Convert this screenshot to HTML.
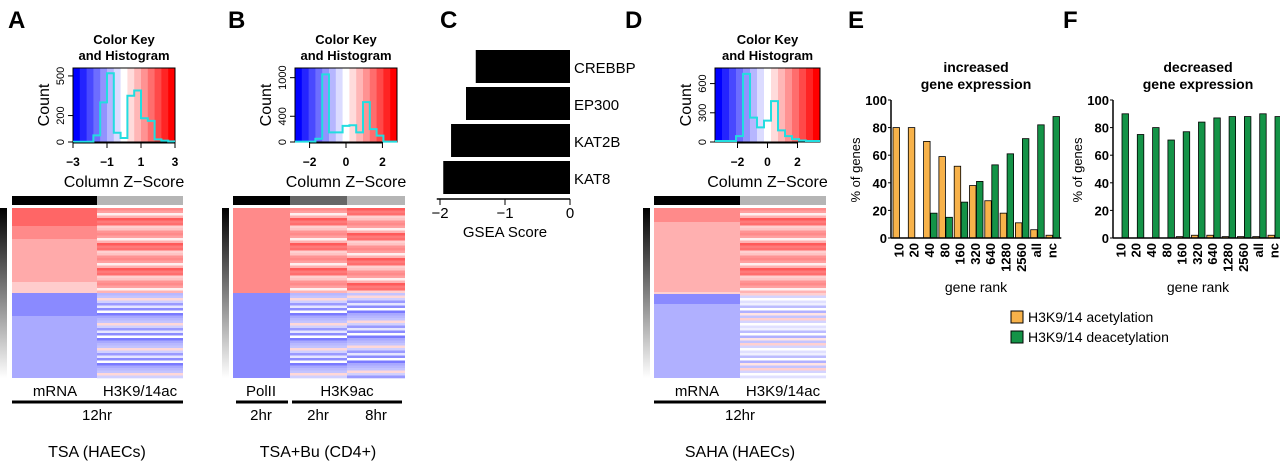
<!DOCTYPE html>
<html><head><meta charset="utf-8"><style>
html,body{margin:0;padding:0;background:#fff}
svg{display:block;font-family:"Liberation Sans",Arial,sans-serif}
</style></head><body>
<svg id="fig" width="1280" height="463" viewBox="0 0 1280 463">
<defs>
<linearGradient id="gz" x1="0" x2="0" y1="0" y2="1">
<stop offset="0" stop-color="#000"/><stop offset="1" stop-color="#fff"/>
</linearGradient>
</defs>
<g id="root"></g>
</svg>
<script>
// ---- data ----
const ranks = ["10","20","40","80","160","320","640","1280","2560","all","nc"];
const incAcet = [80,80,70,59,52,38,27,18,11,6,2];
const incDeacet = [0,0,18,15,26,41,53,61,72,82,88];
const decAcet = [0,0,0,0,1,2,2,1,1,1,2];
const decDeacet = [90,75,80,71,77,84,87,88,88,90,88];
const yTicks = [0,20,40,60,80,100];
const gseaGenes = ["CREBBP","EP300","KAT2B","KAT8"];
const gseaScores = [-1.45,-1.6,-1.83,-1.95];
const gseaTicks = [-2,-1,0];
const histA = [2,2,2,50,300,520,70,30,350,390,180,160,20,10,5];
const histB = [5,5,5,50,1050,150,150,250,260,150,620,200,100,5,5];
const histD = [10,10,10,60,700,250,150,220,420,120,60,30,15,10,10];
const stripeRed = ["#ff6e6e","#ffb3b3","#ff8a8a","#ffd0d0","#ff5a5a","#ffa0a0","#ffc4c4","#ff7a7a","#fff0f0","#ff9494"];
const stripeBlue = ["#a9a9ff","#8c8cff","#d0d0ff","#b8b8ff","#fff","#9a9aff","#c4c4ff","#7a7aff","#e6e6ff","#ffd8d8"];

const NS="http://www.w3.org/2000/svg";
const root=document.getElementById('root');
function el(tag,attrs,parent,text){const e=document.createElementNS(NS,tag);for(const k in attrs)e.setAttribute(k,attrs[k]);if(text!==undefined)e.textContent=text;(parent||root).appendChild(e);return e;}
function txt(x,y,s,size,opts,parent){const a={x:x,y:y,'font-size':size,'text-anchor':'middle',fill:'#000'};Object.assign(a,opts||{});return el('text',a,parent,s);}

[["A",8],["B",228],["C",440],["D",625],["E",848],["F",1063]].forEach(p=>{
 const t=txt(p[1],28,p[0],24,{'text-anchor':'start','font-weight':'bold'});
 
 
});

function colorKey(x0,x1,counts,ymax,yt,xt,xmin,xmax,name){
 const g=el('g',{});
 
 
 const y0=68,y1=142;
 const n=15;
 for(let i=0;i<n;i++){const f=i/(n-1);let r,gg,b;if(f<0.5){const t=f*2;r=Math.round(255*t);gg=r;b=255;}else{const t=(f-0.5)*2;r=255;gg=Math.round(255*(1-t));b=gg;}
  el('rect',{x:x0+(x1-x0)*i/n,y:y0,width:(x1-x0)/n+0.5,height:y1-y0,fill:`rgb(${r},${gg},${b})`},g);}
 el('rect',{x:x0,y:y0,width:x1-x0,height:y1-y0,fill:'none',stroke:'#000','stroke-width':1},g);
 const sy=v=>y1-(v/ymax)*(y1-y0);
 let d='';const w=(x1-x0)/counts.length;
 counts.forEach((c,i)=>{const xa=x0+i*w;d+=(i?'L':'M')+xa+','+sy(c)+'L'+(xa+w)+','+sy(c);});
 el('path',{d:d,fill:'none',stroke:'#22dde0','stroke-width':2},g);
 const sx=v=>x0+(v-xmin)/(xmax-xmin)*(x1-x0);
 yt.forEach(v=>{el('line',{x1:x0-5,x2:x0,y1:sy(v),y2:sy(v),stroke:'#000'},g);
  txt(x0-9,sy(v),String(v),11,{transform:`rotate(-90 ${x0-9} ${sy(v)})`},g);});
 el('line',{x1:sx(xt[0]),x2:sx(xt[xt.length-1]),y1:y1+1,y2:y1+1,stroke:'#000'},g);
 xt.forEach(v=>{el('line',{x1:sx(v),x2:sx(v),y1:y1,y2:y1+6,stroke:'#000'},g);
  txt(sx(v),166,String(v).replace('-','\u2212'),12,{'font-weight':'bold'},g);});
 const cx=(x0+x1)/2;
 txt(cx,44,"Color Key",13,{'font-weight':'bold'},g);
 txt(cx,60,"and Histogram",13,{'font-weight':'bold'},g);
 txt(x0-24,(y0+y1)/2,"Count",16,{transform:`rotate(-90 ${x0-24} ${(y0+y1)/2})`},g);
 txt(cx,187,"Column Z\u2212Score",16,{},g);
}
colorKey(73,175,histA,560,[0,200,500],[-3,-1,1,3],-3,3,'color-key-a');
colorKey(295,397,histB,1150,[0,400,1000],[-2,0,2],-2.8,2.8,'color-key-b');
colorKey(715,820,histD,760,[0,300,600],[-2,0,2],-3.5,3.5,'color-key-d');

function stripes(g,x,w,y0,y1,pal,step,off){let k=off;for(let y=y0;y<y1;y+=step){el('rect',{x:x,y:y,width:w,height:Math.min(step,y1-y)+0.3,fill:pal[k%pal.length]},g);k+=3;}}
function heat(name,gx,cols){
 const g=el('g',{});
 
 
 el('rect',{x:gx,y:208,width:7,height:170,fill:'url(#gz)'},g);
 cols.forEach((c,i)=>{
  el('rect',{x:c.x,y:196,width:c.w,height:9,fill:c.bar},g);
  if(c.solid){c.solid.forEach(s=>el('rect',{x:c.x,y:s[0],width:c.w,height:s[1]-s[0],fill:s[2]},g));}
  else{stripes(g,c.x,c.w,208,293,stripeRed,2.5,i*2);stripes(g,c.x,c.w,293,378,c.blue||stripeBlue,2.5,i*3);}
 });
}
heat('heatmap-a',0,[{x:12,w:85,bar:'#000',solid:[[208,226,'#ff6666'],[226,239,'#ff8a8a'],[239,282,'#ffaaaa'],[282,293,'#ffcccc'],[293,316,'#8a8aff'],[316,378,'#aaaaff']]},{x:97,w:86,bar:'#b5b5b5'}]);
heat('heatmap-b',222,[{x:233,w:57,bar:'#000',solid:[[208,293,'#ff8a8a'],[293,378,'#8a8aff']]},{x:290,w:57,bar:'#666'},{x:347,w:58,bar:'#b5b5b5'}]);
const blueD=["#c4c4ff","#fff","#e0e0ff","#ffd0d0","#b0b0ff","#f0f0ff","#d4d4ff","#ffe4e4","#bcbcff","#ffffff"];
heat('heatmap-d',643,[{x:654,w:86,bar:'#000',solid:[[208,222,'#ff8a8a'],[222,292,'#ffb0b0'],[292,294,'#ffd0d0'],[294,304,'#8a8aff'],[304,378,'#b0b0ff']]},{x:740,w:86,bar:'#b5b5b5',blue:blueD}]);

function lbl(x,y,s,size,name){const t=txt(x,y,s,size);}
function line(x1,x2,y){el('rect',{x:x1,y:y-1.5,width:x2-x1,height:3,fill:'#000'});}
lbl(55,396,"mRNA",15,'label-mrna-a');lbl(140,396,"H3K9/14ac",15,'label-h3k-a');line(12,183,402);lbl(97,420,"12hr",15,'label-12hr-a');lbl(97,457,"TSA (HAECs)",16,'title-a');
lbl(261,396,"PolII",15,'label-polii');lbl(347,396,"H3K9ac",15,'label-h3k9ac');line(236,288,402);line(292,402,402);
lbl(261,420,"2hr",15,'label-2hr-polii');lbl(318,420,"2hr",15,'label-2hr-b');lbl(376,420,"8hr",15,'label-8hr-b');lbl(318,457,"TSA+Bu (CD4+)",16,'title-b');
lbl(697,396,"mRNA",15,'label-mrna-d');lbl(783,396,"H3K9/14ac",15,'label-h3k-d');line(654,826,402);lbl(740,420,"12hr",15,'label-12hr-d');lbl(740,457,"SAHA (HAECs)",16,'title-d');

(function(){
 const g=el('g',{});
 
 
 const sx=v=>570+v*65;
 gseaGenes.forEach((n,i)=>{
  const y=50+i*37;
  const r=el('rect',{x:sx(gseaScores[i]),y:y,width:sx(0)-sx(gseaScores[i]),height:33,fill:'#000'},g);
  
  
  txt(574,y+23,n,15,{'text-anchor':'start'},g);
 });
 el('line',{x1:sx(-2.05),x2:570,y1:199,y2:199,stroke:'#000','stroke-width':1.5},g);
 gseaTicks.forEach(v=>{el('line',{x1:sx(v),x2:sx(v),y1:199,y2:205,stroke:'#000'},g);txt(sx(v),218,String(v).replace('-','\u2212'),15,{},g);});
 txt(505,237,"GSEA Score",15,{},g);
})();

function barChart(name,x0,title1,title2,acet,deacet){
 const g=el('g',{});
 
 
 const y0=238,h=138,gw=15.3;
 const sy=v=>y0-v/100*h;
 txt(x0+85,72,title1,14,{'font-weight':'bold'},g);
 txt(x0+85,89,title2,14,{'font-weight':'bold'},g);
 ranks.forEach((r,i)=>{
  const gx=x0+2+i*gw;
  const a=el('rect',{x:gx,y:sy(acet[i]),width:6.5,height:y0-sy(acet[i]),fill:'#f7b24a',stroke:'#000','stroke-width':0.8},g);
  
  
  const b=el('rect',{x:gx+7,y:sy(deacet[i]),width:6.5,height:y0-sy(deacet[i]),fill:'#149347',stroke:'#000','stroke-width':0.8},g);
  
  
  const tx=gx+7,ty=243;
  txt(tx,ty,r,13,{'text-anchor':'end','dominant-baseline':'middle','font-weight':'bold',transform:`rotate(-90 ${tx} ${ty})`},g);
 });
 el('line',{x1:x0,x2:x0,y1:y0,y2:sy(100),stroke:'#000','stroke-width':1.5},g);
 el('line',{x1:x0,x2:x0+ranks.length*gw+2,y1:y0,y2:y0,stroke:'#000','stroke-width':1.5},g);
 yTicks.forEach(v=>{el('line',{x1:x0-3,x2:x0,y1:sy(v),y2:sy(v),stroke:'#000'},g);txt(x0-4,sy(v)+5,String(v),13,{'text-anchor':'end','font-weight':'bold'},g);});
 txt(x0-31,170,"% of genes",13,{transform:`rotate(-90 ${x0-31} 170)`},g);
 txt(x0+85,292,"gene rank",14,{},g);
}
barChart('chart-increased',891,"increased","gene expression",incAcet,incDeacet);
barChart('chart-decreased',1113,"decreased","gene expression",decAcet,decDeacet);

(function(){
 const g=el('g',{});
 
 
 el('rect',{x:1011,y:311,width:12,height:12,fill:'#f7b24a',stroke:'#000'},g);
 txt(1028,322,"H3K9/14 acetylation",14,{'text-anchor':'start'},g);
 el('rect',{x:1011,y:331,width:12,height:12,fill:'#149347',stroke:'#000'},g);
 txt(1028,342,"H3K9/14 deacetylation",14,{'text-anchor':'start'},g);
})();
</script>
</body></html>
